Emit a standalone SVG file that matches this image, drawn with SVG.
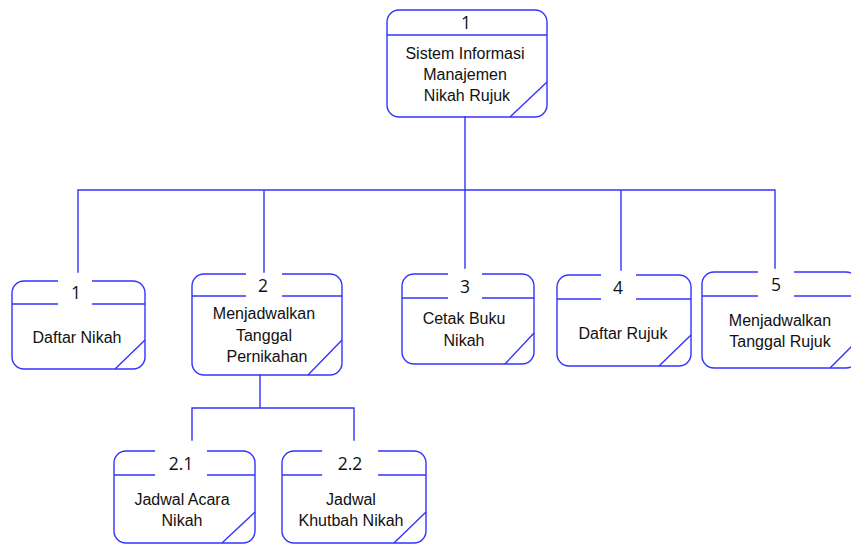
<svg xmlns="http://www.w3.org/2000/svg" width="851" height="545" viewBox="0 0 851 545">
  <style>
    .edge { fill: none; stroke: #3333ff; stroke-width: 1.4; stroke-linecap: square; }
    .box { fill: none; stroke: #3333ff; stroke-width: 1.4; }
    .num { font-family: "Open Sans", "Liberation Sans", sans-serif; font-size: 17.5px; fill: #111; text-anchor: middle; }
    .lbl { font-family: "Liberation Sans", Arial, sans-serif; font-size: 16px; fill: #111; text-anchor: middle; }
  </style>
  <rect width="851" height="545" fill="#ffffff"/>

  <!-- connectors -->
  <g id="connectors">
    <path class="edge" d="M465 117 V190 M78 190 H775 M78 190 V272 M264 190 V272 M465 190 V268 M621 190 V270 M775 190 V268"/>
    <path class="edge" d="M260 375 V408 M192 408 H354 M192 408 V440 M354 408 V440"/>
  </g>

  <!-- root process -->
  <g id="p1-root">
    <rect class="box" x="387" y="10" width="160" height="107" rx="12" ry="12"/>
    <line class="box" x1="387" y1="35" x2="547" y2="35"/>
    <line class="box" x1="510" y1="117" x2="547" y2="82"/>
    <text class="num" x="466" y="29">1</text>
    <text class="lbl" x="465" y="59">Sistem Informasi</text>
    <text class="lbl" x="465" y="80">Manajemen</text>
    <text class="lbl" x="467" y="101">Nikah Rujuk</text>
  </g>

  <!-- process 1 -->
  <g id="p1-daftar-nikah">
    <path class="box" d="M92 281 H133 A12 12 0 0 1 145 293 V357 A12 12 0 0 1 133 369 H24 A12 12 0 0 1 12 357 V293 A12 12 0 0 1 24 281 H58"/>
    <path class="box" d="M12 304 H58 M92 304 H145"/>
    <line class="box" x1="115" y1="369" x2="145" y2="340"/>
    <text class="num" x="76" y="299">1</text>
    <text class="lbl" x="77" y="343">Daftar Nikah</text>
  </g>

  <!-- process 2 -->
  <g id="p2-tanggal-pernikahan">
    <path class="box" d="M282 274 H330 A12 12 0 0 1 342 286 V363 A12 12 0 0 1 330 375 H204 A12 12 0 0 1 192 363 V286 A12 12 0 0 1 204 274 H246"/>
    <path class="box" d="M192 296 H246 M282 296 H342"/>
    <line class="box" x1="308" y1="375" x2="342" y2="340"/>
    <text class="num" x="263" y="292">2</text>
    <text class="lbl" x="264" y="319">Menjadwalkan</text>
    <text class="lbl" x="264" y="341">Tanggal</text>
    <text class="lbl" x="267" y="362">Pernikahan</text>
  </g>

  <!-- process 3 -->
  <g id="p3-cetak-buku">
    <path class="box" d="M482 274 H522 A12 12 0 0 1 534 286 V352 A12 12 0 0 1 522 364 H414 A12 12 0 0 1 402 352 V286 A12 12 0 0 1 414 274 H448"/>
    <path class="box" d="M402 298 H448 M482 298 H534"/>
    <line class="box" x1="505" y1="364" x2="534" y2="333"/>
    <text class="num" x="465" y="293">3</text>
    <text class="lbl" x="464" y="324">Cetak Buku</text>
    <text class="lbl" x="464" y="346">Nikah</text>
  </g>

  <!-- process 4 -->
  <g id="p4-daftar-rujuk">
    <path class="box" d="M636 275 H679 A12 12 0 0 1 691 287 V354 A12 12 0 0 1 679 366 H569 A12 12 0 0 1 557 354 V287 A12 12 0 0 1 569 275 H601"/>
    <path class="box" d="M557 299 H601 M636 299 H691"/>
    <line class="box" x1="659" y1="366" x2="691" y2="335"/>
    <text class="num" x="618" y="294">4</text>
    <text class="lbl" x="623" y="339">Daftar Rujuk</text>
  </g>

  <!-- process 5 -->
  <g id="p5-tanggal-rujuk">
    <path class="box" d="M794 272 H846 A12 12 0 0 1 858 284 V356 A12 12 0 0 1 846 368 H714 A12 12 0 0 1 702 356 V284 A12 12 0 0 1 714 272 H758"/>
    <path class="box" d="M702 296 H758 M794 296 H858"/>
    <line class="box" x1="830" y1="368" x2="858" y2="340"/>
    <text class="num" x="776" y="291">5</text>
    <text class="lbl" x="780" y="326">Menjadwalkan</text>
    <text class="lbl" x="780" y="347">Tanggal Rujuk</text>
  </g>

  <!-- process 2.1 -->
  <g id="p2-1-acara-nikah">
    <path class="box" d="M207 451 H243 A12 12 0 0 1 255 463 V531 A12 12 0 0 1 243 543 H126 A12 12 0 0 1 114 531 V463 A12 12 0 0 1 126 451 H155"/>
    <path class="box" d="M114 475 H155 M207 475 H255"/>
    <line class="box" x1="222" y1="543" x2="255" y2="512"/>
    <text class="num" x="181" y="470">2.1</text>
    <text class="lbl" x="182" y="505">Jadwal Acara</text>
    <text class="lbl" x="182" y="526">Nikah</text>
  </g>

  <!-- process 2.2 -->
  <g id="p2-2-khutbah-nikah">
    <path class="box" d="M378 451 H414 A12 12 0 0 1 426 463 V531 A12 12 0 0 1 414 543 H294 A12 12 0 0 1 282 531 V463 A12 12 0 0 1 294 451 H322"/>
    <path class="box" d="M282 475 H322 M378 475 H426"/>
    <line class="box" x1="394" y1="543" x2="426" y2="512"/>
    <text class="num" x="350" y="470">2.2</text>
    <text class="lbl" x="351" y="505">Jadwal</text>
    <text class="lbl" x="351" y="526">Khutbah Nikah</text>
  </g>
</svg>
